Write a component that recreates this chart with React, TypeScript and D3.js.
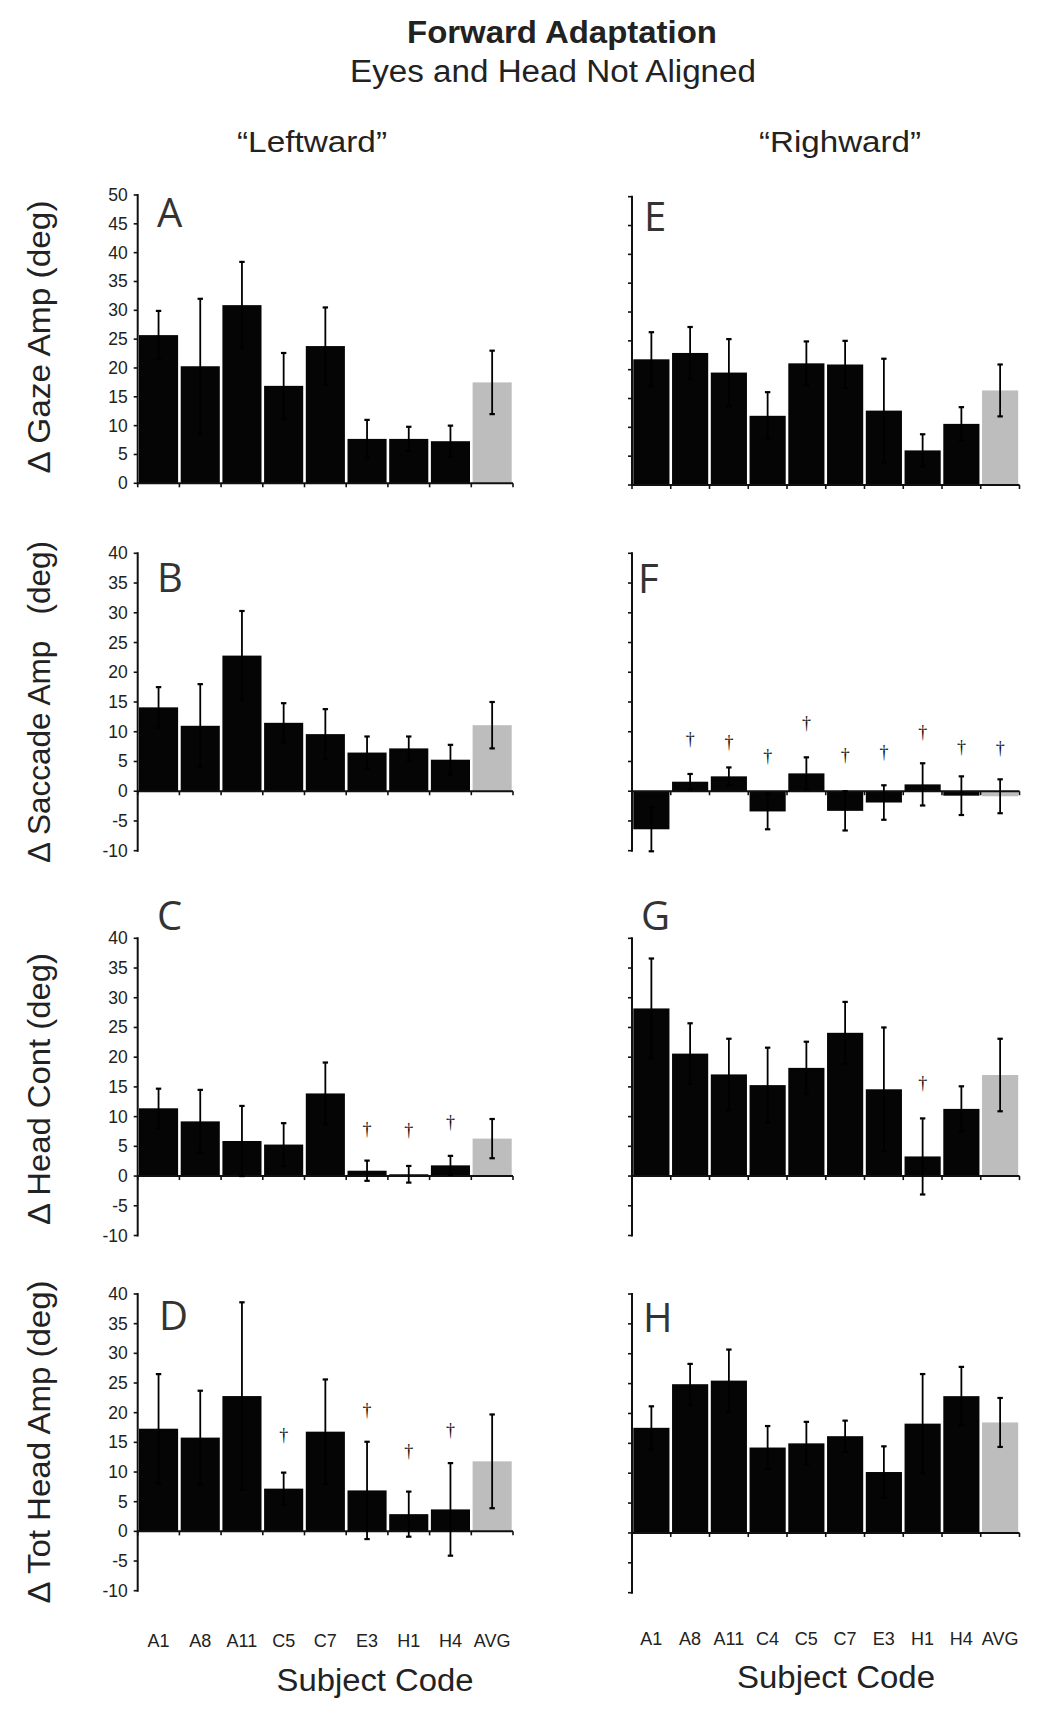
import React from 'react';
import * as d3 from 'd3';

// ---------- DATA ----------
const leftCategories = ['A1', 'A8', 'A11', 'C5', 'C7', 'E3', 'H1', 'H4', 'AVG'];
const rightCategories = ['A1', 'A8', 'A11', 'C4', 'C5', 'C7', 'E3', 'H1', 'H4', 'AVG'];

// Panel A: Δ Gaze Amp, leftward
const gazeLeft = [25.7, 20.3, 30.9, 16.9, 23.8, 7.7, 7.7, 7.3, 17.5];
const gazeLeftErr = [4.2, 11.7, 7.5, 5.7, 6.7, 3.3, 2.1, 2.7, 5.5];
// Panel E: Δ Gaze Amp, rightward
const gazeRight = [21.8, 22.9, 19.5, 12.0, 21.1, 20.9, 12.9, 6.0, 10.6, 16.4];
const gazeRightErr = [4.7, 4.5, 5.8, 4.1, 3.8, 4.1, 9.0, 2.8, 2.9, 4.5];

// Panel B: Δ Saccade Amp, leftward
const saccLeft = [14.1, 11.0, 22.8, 11.5, 9.6, 6.5, 7.2, 5.3, 11.1];
const saccLeftErr = [3.4, 7.0, 7.5, 3.3, 4.2, 2.7, 2.0, 2.5, 3.9];
// Panel F: Δ Saccade Amp, rightward
const saccRight = [-6.4, 1.6, 2.5, -3.4, 3.0, -3.3, -1.9, 1.15, -0.75, -0.85];
const saccRightErr = [3.7, 1.3, 1.5, 3.0, 2.7, 3.3, 2.9, 3.55, 3.25, 2.85];
const saccRightDagger = [null, 8.8, 8.2, 5.9, 11.4, 6.1, 6.6, 9.9, 7.5, 7.3];

// Panel C: Δ Head Cont, leftward
const headContLeft = [11.4, 9.2, 5.9, 5.3, 13.9, 0.9, 0.3, 1.8, 6.3];
const headContLeftErr = [3.3, 5.3, 5.9, 3.6, 5.2, 1.7, 1.4, 1.6, 3.3];
const headContLeftDagger = [null, null, null, null, null, 8.0, 7.7, 9.1, null];
// Panel G: Δ Head Cont, rightward
const headContRight = [28.2, 20.6, 17.1, 15.3, 18.2, 24.1, 14.6, 3.3, 11.3, 17.0];
const headContRightErr = [8.4, 5.1, 6.0, 6.3, 4.4, 5.2, 10.4, 6.4, 3.8, 6.1];
const headContRightDagger = [null, null, null, null, null, null, null, 15.6, null, null];

// Panel D: Δ Tot Head Amp, leftward
const totHeadLeft = [17.3, 15.8, 22.8, 7.2, 16.8, 6.9, 2.9, 3.7, 11.8];
const totHeadLeftErr = [9.2, 7.9, 15.8, 2.7, 8.8, 8.2, 3.8, 7.8, 7.9];
const totHeadLeftDagger = [null, null, null, 16.2, null, 20.5, 13.6, 17.1, null];
// Panel H: Δ Tot Head Amp, rightward
const totHeadRight = [17.6, 24.9, 25.5, 14.3, 15.0, 16.2, 10.2, 18.3, 22.9, 18.5];
const totHeadRightErr = [3.6, 3.4, 5.2, 3.6, 3.6, 2.6, 4.3, 8.3, 4.9, 4.1];

const gazeTicks = [0, 5, 10, 15, 20, 25, 30, 35, 40, 45, 50];
const otherTicks = [-10, -5, 0, 5, 10, 15, 20, 25, 30, 35, 40];

const SANS = '"Liberation Sans", Arial, Helvetica, sans-serif';
const LETTER_FONT = '"Open Sans", "Noto Sans", sans-serif';
const SERIF = '"Liberation Serif", "DejaVu Serif", serif';
const TEXT = '#222';

type PanelProps = {
  x0: number; x1: number; yTop: number; yBottom: number;
  domain: [number, number]; ticks: number[];
  cats: string[]; values: number[]; errs: number[];
  daggers?: (number | null)[];
  letter: string; letterX: number; letterY: number;
  showTickLabels: boolean; showCatLabels: boolean; catLabelY?: number;
};

function Panel(p: PanelProps) {
  const y = d3.scaleLinear().domain(p.domain).range([p.yBottom, p.yTop]);
  const xb = d3.scaleBand<string>().domain(p.cats).range([p.x0, p.x1]);
  const bw = xb.bandwidth();
  const y0 = y(0);
  const lastIdx = p.cats.length - 1;
  const boundaries = [...p.cats.map((c) => xb(c) as number), p.x1];
  return (
    <g>
      {p.cats.map((c, i) => {
        const v = p.values[i];
        const top = Math.min(y(v), y0);
        const h = Math.abs(y(v) - y0);
        return (
          <rect key={'b' + c} x={(xb(c) as number) + 1.3} y={top} width={bw - 2.6} height={h}
            fill={i === lastIdx ? '#bdbdbd' : '#050505'} />
        );
      })}
      <line x1={p.x0} x2={p.x0} y1={p.yTop - 1} y2={p.yBottom + 1} stroke="#111" strokeWidth={2} />
      {p.ticks.map((t) => (
        <line key={'yt' + t} x1={p.x0 - 4} x2={p.x0} y1={y(t)} y2={y(t)} stroke="#111" strokeWidth={1.6} />
      ))}
      <line x1={p.x0} x2={p.x1} y1={y0} y2={y0} stroke="#111" strokeWidth={2} />
      {boundaries.map((bx, i) => (
        <line key={'xt' + i} x1={bx} x2={bx} y1={y0} y2={y0 + 4} stroke="#111" strokeWidth={1.6} />
      ))}
      {p.cats.map((c, i) => {
        const cx = (xb(c) as number) + bw / 2;
        const hi = y(p.values[i] + p.errs[i]);
        const lo = y(p.values[i] - p.errs[i]);
        return (
          <g key={'e' + c} stroke="#000">
            <line x1={cx} x2={cx} y1={hi} y2={lo} strokeWidth={1.8} />
            <line x1={cx - 2.7} x2={cx + 2.7} y1={hi} y2={hi} strokeWidth={2.2} />
            <line x1={cx - 2.7} x2={cx + 2.7} y1={lo} y2={lo} strokeWidth={2.2} />
          </g>
        );
      })}
      {p.daggers && p.daggers.map((d, i) =>
        d === null ? null : (
          <text key={'d' + i} x={(xb(p.cats[i]) as number) + bw / 2} y={y(d)} textAnchor="middle"
            dominantBaseline="central" fontFamily={SERIF} fontSize={18} fill="#111">†</text>
        ))}
      {p.showTickLabels && p.ticks.map((t) => (
        <text key={'tl' + t} x={p.x0 - 10} y={y(t)} textAnchor="end" dominantBaseline="central"
          fontFamily={SANS} fontSize={17.5} fill={TEXT}>{t}</text>
      ))}
      {p.showCatLabels && p.cats.map((c) => (
        <text key={'cl' + c} x={(xb(c) as number) + bw / 2} y={p.catLabelY} textAnchor="middle"
          fontFamily={SANS} fontSize={18} fill={TEXT}>{c}</text>
      ))}
      <text x={p.letterX} y={p.letterY} fontFamily={LETTER_FONT} fontSize={40} fill="#333">{p.letter}</text>
    </g>
  );
}

function YLabel({ x, y, text, len }: { x: number; y: number; text: string; len: number }) {
  return (
    <text transform={`translate(${x},${y}) rotate(-90)`} textAnchor="middle" fontFamily={SANS}
      fontSize={32} fill={TEXT} style={{ whiteSpace: 'pre' }}
      textLength={len} lengthAdjust="spacingAndGlyphs">{text}</text>
  );
}

export default function App() {
  const LX0 = 137.7, LX1 = 513;
  const RX0 = 632, RX1 = 1019.5;
  return (
    <svg width={1050} height={1715} viewBox="0 0 1050 1715"
      style={{ position: 'absolute', left: 0, top: 0, display: 'block', background: '#fff' }}>
      <rect x={0} y={0} width={1050} height={1715} fill="#fff" />
      <text x={562} y={43} textAnchor="middle" fontFamily={SANS} fontWeight="bold" fontSize={30.5} fill={TEXT}
        textLength={310} lengthAdjust="spacingAndGlyphs">Forward Adaptation</text>
      <text x={553} y={82} textAnchor="middle" fontFamily={SANS} fontSize={31} fill={TEXT}
        textLength={406} lengthAdjust="spacingAndGlyphs">Eyes and Head Not Aligned</text>
      <text x={312} y={152} textAnchor="middle" fontFamily={SANS} fontSize={30} fill={TEXT}
        textLength={150} lengthAdjust="spacingAndGlyphs">“Leftward”</text>
      <text x={840} y={152} textAnchor="middle" fontFamily={SANS} fontSize={30} fill={TEXT}
        textLength={162} lengthAdjust="spacingAndGlyphs">“Righward”</text>

      <YLabel x={50} y={337} len={273} text="Δ Gaze Amp (deg)" />
      <YLabel x={50} y={702} len={322} text="Δ Saccade Amp   (deg)" />
      <YLabel x={50} y={1089} len={272} text="Δ Head Cont (deg)" />
      <YLabel x={50} y={1442} len={323} text="Δ Tot Head Amp (deg)" />

      <Panel x0={LX0} x1={LX1} yTop={195} yBottom={483.3} domain={[0, 50]} ticks={gazeTicks}
        cats={leftCategories} values={gazeLeft} errs={gazeLeftErr}
        letter="A" letterX={157} letterY={227} showTickLabels showCatLabels={false} />
      <Panel x0={RX0} x1={RX1} yTop={196.7} yBottom={485} domain={[0, 50]} ticks={gazeTicks}
        cats={rightCategories} values={gazeRight} errs={gazeRightErr}
        letter="E" letterX={644} letterY={231} showTickLabels={false} showCatLabels={false} />

      <Panel x0={LX0} x1={LX1} yTop={553.3} yBottom={850.7} domain={[-10, 40]} ticks={otherTicks}
        cats={leftCategories} values={saccLeft} errs={saccLeftErr}
        letter="B" letterX={157} letterY={592} showTickLabels showCatLabels={false} />
      <Panel x0={RX0} x1={RX1} yTop={553.3} yBottom={850.7} domain={[-10, 40]} ticks={otherTicks}
        cats={rightCategories} values={saccRight} errs={saccRightErr} daggers={saccRightDagger}
        letter="F" letterX={638} letterY={593} showTickLabels={false} showCatLabels={false} />

      <Panel x0={LX0} x1={LX1} yTop={938.3} yBottom={1235.5} domain={[-10, 40]} ticks={otherTicks}
        cats={leftCategories} values={headContLeft} errs={headContLeftErr} daggers={headContLeftDagger}
        letter="C" letterX={157} letterY={930} showTickLabels showCatLabels={false} />
      <Panel x0={RX0} x1={RX1} yTop={938.3} yBottom={1235.5} domain={[-10, 40]} ticks={otherTicks}
        cats={rightCategories} values={headContRight} errs={headContRightErr} daggers={headContRightDagger}
        letter="G" letterX={641} letterY={930} showTickLabels={false} showCatLabels={false} />

      <Panel x0={LX0} x1={LX1} yTop={1294} yBottom={1590.7} domain={[-10, 40]} ticks={otherTicks}
        cats={leftCategories} values={totHeadLeft} errs={totHeadLeftErr} daggers={totHeadLeftDagger}
        letter="D" letterX={159} letterY={1330} showTickLabels showCatLabels catLabelY={1647} />
      <Panel x0={RX0} x1={RX1} yTop={1294} yBottom={1592.7} domain={[-10, 40]} ticks={otherTicks}
        cats={rightCategories} values={totHeadRight} errs={totHeadRightErr}
        letter="H" letterX={643} letterY={1332} showTickLabels={false} showCatLabels catLabelY={1645} />

      <text x={375} y={1691} textAnchor="middle" fontFamily={SANS} fontSize={31} fill={TEXT}
        textLength={197} lengthAdjust="spacingAndGlyphs">Subject Code</text>
      <text x={836} y={1688} textAnchor="middle" fontFamily={SANS} fontSize={31} fill={TEXT}
        textLength={198} lengthAdjust="spacingAndGlyphs">Subject Code</text>
    </svg>
  );
}
